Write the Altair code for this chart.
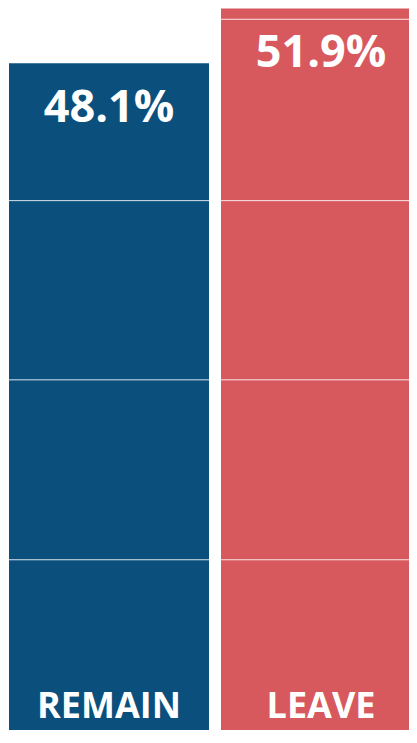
import altair as alt
import pandas as pd

# Data
categories = ["REMAIN", "LEAVE"]
shares = [48.1, 51.9]
bar_colors = ["#0b4f7d", "#d8595d"]
grid_values = [13.75, 26.2, 38.6, 51.15]

df = pd.DataFrame({"side": categories, "share": shares})
grid_df = pd.DataFrame({"g": grid_values})

y_scale = alt.Scale(domain=[1.97, 51.93], nice=False, zero=False)
x_scale = alt.Scale(domain=categories, range=[1, 413], paddingInner=12 / 212, paddingOuter=0)
color_scale = alt.Scale(domain=categories, range=bar_colors)

base = alt.Chart(df)

bars = base.mark_bar(clip=True).encode(
    x=alt.X("side:N", scale=x_scale, axis=None, sort=categories),
    y=alt.Y("share:Q", scale=y_scale, axis=None),
    y2=alt.datum(0),
    color=alt.Color("side:N", scale=color_scale, legend=None),
)

grid = alt.Chart(grid_df).mark_rule(color="white", strokeWidth=1, opacity=0.85).encode(
    y=alt.Y("g:Q", scale=y_scale, axis=None),
)

pct = base.transform_calculate(
    label="format(datum.share, '.1f') + '%'"
).mark_text(
    font="Open Sans", fontWeight="bold", fontSize=45, color="white",
    baseline="alphabetic", align="center", dy=59,
).encode(
    x=alt.X("side:N", scale=x_scale, axis=None, sort=categories),
    y=alt.Y("share:Q", scale=y_scale, axis=None),
    text="label:N",
)

names = base.mark_text(
    font="Open Sans", fontWeight="bold", fontSize=36, color="white",
    baseline="alphabetic", align="center",
).encode(
    x=alt.X("side:N", scale=x_scale, axis=None, sort=categories),
    y=alt.value(710),
    text="side:N",
)

chart = alt.layer(bars, grid, pct, names).properties(
    width=401, height=722, padding=0, autosize="none", background="white"
).configure_view(stroke=None)

chart.save("out.html", embed_options={"renderer": "svg", "actions": False})
